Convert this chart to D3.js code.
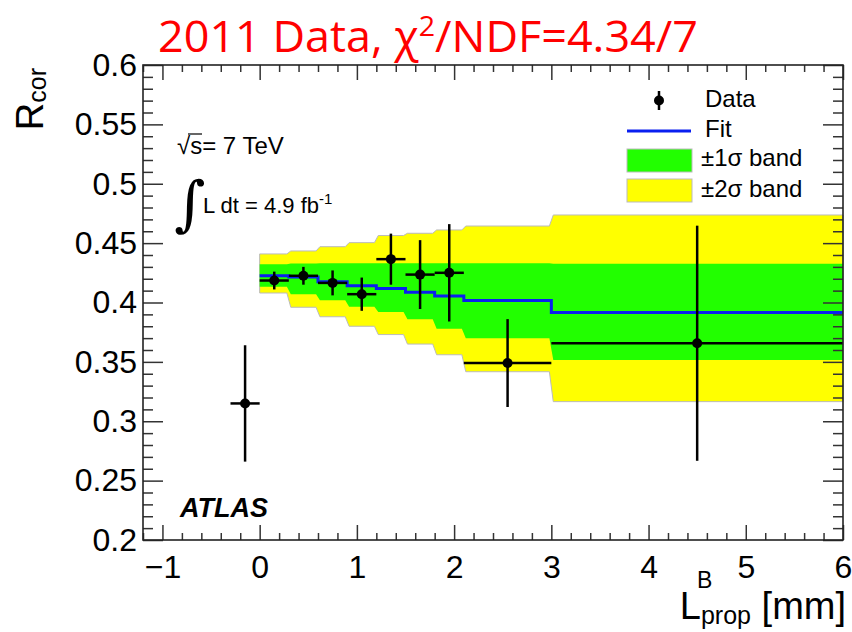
<!DOCTYPE html>
<html>
<head>
<meta charset="utf-8">
<script src="https://cdn.jsdelivr.net/npm/d3@7"></script>
<style>
  body { margin: 0; background: #fff; }
  text { font-family: "Liberation Sans", Arial, Helvetica, sans-serif; fill: #000; }
  .tick line { stroke: #333; stroke-width: 1.5; }
  .tick text { font-size: 32px; }
  .domain { display: none; }
</style>
</head>
<body>
<div id="chart"></div>
<script>
  // measured points (bin edges, centres, values, errors)
  var binLo = [-0.3, 0, 0.3, 0.6, 0.9, 1.2, 1.5, 1.8, 2.1, 3.0];
  var binHi = [0, 0.3, 0.6, 0.9, 1.2, 1.5, 1.8, 2.1, 3.0, 6.0];
  var dataX = [-0.15, 0.15, 0.45, 0.75, 1.05, 1.35, 1.65, 1.95, 2.55, 4.5];
  var dataY = [0.315, 0.4185, 0.4225, 0.4165, 0.407, 0.4365, 0.4235, 0.425, 0.349, 0.3657];
  var dataErr = [0.049, 0.0075, 0.0075, 0.0105, 0.014, 0.0215, 0.029, 0.041, 0.037, 0.099];

  // fit and its bands (bins from 0 to 6)
  var fitLo = [0, 0.3, 0.6, 0.9, 1.2, 1.5, 1.8, 2.1, 3.0];
  var fitHi = [0.3, 0.6, 0.9, 1.2, 1.5, 1.8, 2.1, 3.0, 6.0];
  var fitY = [0.4226, 0.4215, 0.4175, 0.4142, 0.4117, 0.4087, 0.4055, 0.4017, 0.3915];
  var band1Up = [0.4322, 0.4328, 0.433, 0.433, 0.433, 0.433, 0.433, 0.433, 0.4326];
  var band1Dn = [0.4133, 0.407, 0.402, 0.3965, 0.392, 0.386, 0.378, 0.370, 0.3516];
  var band2Up = [0.4409, 0.4434, 0.447, 0.4504, 0.4564, 0.4583, 0.4611, 0.4644, 0.4737];
  var band2Dn = [0.408, 0.396, 0.388, 0.380, 0.373, 0.365, 0.356, 0.3417, 0.3165];

  var xTicks = [-1, 0, 1, 2, 3, 4, 5, 6];
  var yTicks = [0.2, 0.25, 0.3, 0.35, 0.4, 0.45, 0.5, 0.55, 0.6];

  var W = 852, H = 632;
  var frame = {left: 143, right: 843, top: 65, bottom: 540};

  var svg = d3.select("#chart").append("svg")
      .attr("width", W).attr("height", H);
  svg.append("rect").attr("width", W).attr("height", H).attr("fill", "#fff");

  var x = d3.scaleLinear().domain([-1.2, 6]).range([frame.left, frame.right]);
  var y = d3.scaleLinear().domain([0.2, 0.6]).range([frame.bottom, frame.top]);

  /* band outline: flat bins joined by short slanted steps */
  function bandPoints(up, dn) {
    var pts = [], inset = 0.02, n = fitLo.length;
    for (var i = 0; i < n; i++) {
      pts.push({x: fitLo[i] + (i > 0 ? inset : 0), up: up[i], dn: dn[i]});
      pts.push({x: fitHi[i] - (i < n - 1 ? inset : 0), up: up[i], dn: dn[i]});
    }
    return pts;
  }
  var area = d3.area()
      .x(function(d) { return x(d.x); })
      .y0(function(d) { return y(d.dn); })
      .y1(function(d) { return y(d.up); });

  svg.append("path")
      .attr("d", area(bandPoints(band2Up, band2Dn)))
      .attr("fill", "#ffff00")
      .attr("stroke", "#bbbbbb")
      .attr("stroke-width", 1);
  svg.append("path")
      .attr("d", area(bandPoints(band1Up, band1Dn)))
      .attr("fill", "#22ff00");

  // fit step line
  var fitPts = fitLo.map(function(d, i) { return [d, fitY[i]]; });
  fitPts.push([fitHi[fitHi.length - 1], fitY[fitY.length - 1]]);
  svg.append("path")
      .attr("d", d3.line().curve(d3.curveStepAfter)
        .x(function(d) { return x(d[0]); })
        .y(function(d) { return y(d[1]); })(fitPts))
      .attr("fill", "none")
      .attr("stroke", "#0a1ff0")
      .attr("stroke-width", 3);

  // data points with error bars
  var pts = svg.append("g").selectAll("g")
      .data(dataX.map(function(d, i) { return i; }))
      .enter().append("g");
  pts.append("line")
      .attr("x1", function(i) { return x(binLo[i]); })
      .attr("x2", function(i) { return x(binHi[i]); })
      .attr("y1", function(i) { return y(dataY[i]); })
      .attr("y2", function(i) { return y(dataY[i]); })
      .attr("stroke", "#000").attr("stroke-width", 2.5);
  pts.append("line")
      .attr("x1", function(i) { return x(dataX[i]); })
      .attr("x2", function(i) { return x(dataX[i]); })
      .attr("y1", function(i) { return y(dataY[i] - dataErr[i]); })
      .attr("y2", function(i) { return y(dataY[i] + dataErr[i]); })
      .attr("stroke", "#000").attr("stroke-width", 2.5);
  pts.append("circle")
      .attr("cx", function(i) { return x(dataX[i]); })
      .attr("cy", function(i) { return y(dataY[i]); })
      .attr("r", 5).attr("fill", "#000");

  // axes: major + minor ticks on all four sides, pointing inwards
  var xMinor = d3.range(-12, 61, 2).map(function(v) { return v / 10; })
      .filter(function(v) { return Math.abs(v - Math.round(v)) > 1e-6; });
  var yMinor = d3.range(20, 61).map(function(v) { return v / 100; })
      .filter(function(v) { return Math.round(v * 100) % 5 != 0; });

  function fmtX(d) { return d < 0 ? "\u2212" + (-d) : String(d); }

  svg.append("g").attr("transform", "translate(0," + frame.bottom + ")")
      .call(d3.axisBottom(x).tickValues(xTicks).tickSize(-15).tickSizeOuter(0)
        .tickPadding(15).tickFormat(fmtX));
  svg.append("g").attr("transform", "translate(0," + frame.bottom + ")")
      .call(d3.axisBottom(x).tickValues(xMinor).tickSize(-7).tickSizeOuter(0).tickFormat(""));
  svg.append("g").attr("transform", "translate(0," + frame.top + ")")
      .call(d3.axisTop(x).tickValues(xTicks).tickSize(-15).tickSizeOuter(0).tickFormat(""));
  svg.append("g").attr("transform", "translate(0," + frame.top + ")")
      .call(d3.axisTop(x).tickValues(xMinor).tickSize(-7).tickSizeOuter(0).tickFormat(""));

  svg.append("g").attr("transform", "translate(" + frame.left + ",0)")
      .call(d3.axisLeft(y).tickValues(yTicks).tickSize(-20).tickSizeOuter(0)
        .tickPadding(6).tickFormat(function(d) { return String(+d.toFixed(2)); }));
  svg.append("g").attr("transform", "translate(" + frame.left + ",0)")
      .call(d3.axisLeft(y).tickValues(yMinor).tickSize(-10).tickSizeOuter(0).tickFormat(""));
  svg.append("g").attr("transform", "translate(" + frame.right + ",0)")
      .call(d3.axisRight(y).tickValues(yTicks).tickSize(-20).tickSizeOuter(0).tickFormat(""));
  svg.append("g").attr("transform", "translate(" + frame.right + ",0)")
      .call(d3.axisRight(y).tickValues(yMinor).tickSize(-10).tickSizeOuter(0).tickFormat(""));

  svg.append("rect")
      .attr("x", frame.left).attr("y", frame.top)
      .attr("width", frame.right - frame.left).attr("height", frame.bottom - frame.top)
      .attr("fill", "none").attr("stroke", "#222").attr("stroke-width", 1.6);

  // axis titles
  var xt = svg.append("text").attr("x", frame.right + 3).attr("y", 619)
      .attr("text-anchor", "end").style("font-size", "38px");
  xt.append("tspan").text("L");
  xt.append("tspan").attr("dy", 5).style("font-size", "25px").text("prop");
  xt.append("tspan").attr("dy", -5).text(" [mm]");
  svg.append("text").attr("x", 697).attr("y", 588).style("font-size", "23px").text("B");

  var yt = svg.append("text")
      .attr("transform", "translate(43," + (frame.top + 3) + ") rotate(-90)")
      .attr("text-anchor", "end").style("font-size", "38px");
  yt.append("tspan").text("R");
  yt.append("tspan").attr("dy", 3).style("font-size", "25px").text("cor");

  // title
  svg.append("text").attr("x", 158).attr("y", 52)
      .attr("textLength", 540).attr("lengthAdjust", "spacingAndGlyphs")
      .style("font-family", "'Liberation Sans Narrow', 'Open Sans', sans-serif")
      .style("font-size", "44px").style("fill", "#ff0000")
      .html("2011 Data, \u03c7<tspan dy='-16' font-size='28'>2</tspan><tspan dy='16'>/NDF=4.34/7</tspan>");

  // energy / luminosity labels
  var ann = svg.append("g");
  ann.append("text").attr("x", 177).attr("y", 154).style("font-size", "24px")
      .text("\u221as= 7 TeV");
  ann.append("line").attr("x1", 188).attr("x2", 202).attr("y1", 134).attr("y2", 134)
      .attr("stroke", "#000").attr("stroke-width", 1.2);
  ann.append("text").attr("x", 174).attr("y", 224)
      .style("font-family", "'DejaVu Serif', serif").style("font-size", "60px").text("\u222b");
  var lum = ann.append("text").attr("x", 203).attr("y", 213).style("font-size", "22px");
  lum.append("tspan").text("L dt = 4.9 fb");
  lum.append("tspan").attr("dy", -9).style("font-size", "15px").text("-1");

  svg.append("text").attr("x", 180).attr("y", 517)
      .style("font-size", "27px").style("font-weight", "bold").style("font-style", "italic")
      .text("ATLAS");

  // legend
  var lg = svg.append("g").style("font-size", "24px");
  lg.append("line").attr("x1", 659).attr("x2", 659).attr("y1", 91).attr("y2", 110)
      .attr("stroke", "#000").attr("stroke-width", 2.5);
  lg.append("circle").attr("cx", 659).attr("cy", 100.5).attr("r", 5).attr("fill", "#000");
  lg.append("text").attr("x", 705).attr("y", 107).text("Data");
  lg.append("line").attr("x1", 627).attr("x2", 691).attr("y1", 131).attr("y2", 131)
      .attr("stroke", "#0a1ff0").attr("stroke-width", 3);
  lg.append("text").attr("x", 705).attr("y", 137).text("Fit");
  lg.append("rect").attr("x", 627).attr("y", 149).attr("width", 65).attr("height", 23)
      .attr("fill", "#22ff00").attr("stroke", "#bbb");
  lg.append("text").attr("x", 701).attr("y", 166).text("\u00b11\u03c3 band");
  lg.append("rect").attr("x", 627).attr("y", 179).attr("width", 65).attr("height", 23)
      .attr("fill", "#ffff00").attr("stroke", "#bbb");
  lg.append("text").attr("x", 701).attr("y", 197).text("\u00b12\u03c3 band");
</script>
</body>
</html>
